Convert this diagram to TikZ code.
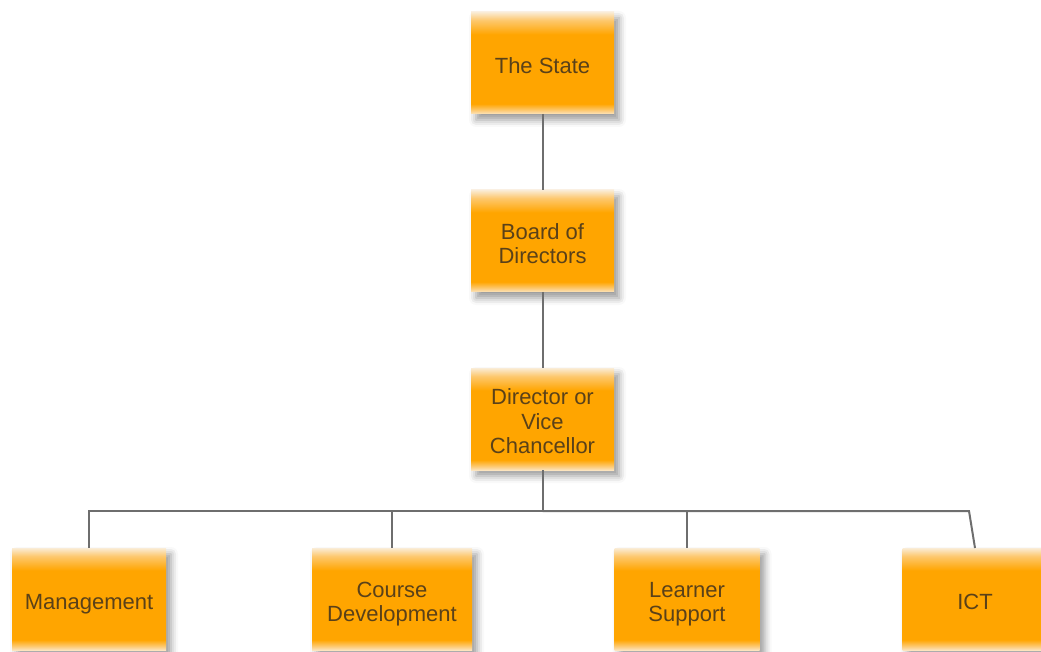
\documentclass[tikz,border=0pt]{standalone}
\usepackage{fontspec}
\setmainfont{Liberation Sans}
\usetikzlibrary{chains,positioning,shadows.blur}

\definecolor{boxorange}{RGB}{255,165,0}
\definecolor{boxmid}{RGB}{253,200,110}
\definecolor{boxtop}{RGB}{250,236,214}
\definecolor{boxlow}{RGB}{252,228,190}
\definecolor{boxtext}{RGB}{90,65,25}
\definecolor{linkgray}{RGB}{110,110,110}

\pgfdeclareverticalshading{orgshade}{100bp}{color(0bp)=(boxlow); color(25bp)=(boxlow);
  color(27bp)=(boxmid); color(30bp)=(boxorange); color(64bp)=(boxorange);
  color(71bp)=(boxmid); color(75bp)=(boxtop); color(100bp)=(boxtop)}

% lines of a box, set a little low
\newcommand\boxlines[1]{\raisebox{-5.5pt}[\height][\depth]{\begin{tabular}{@{}c@{}}#1\end{tabular}}}

\tikzset{
  orgbox/.style={rectangle,shading=orgshade,minimum width=143pt,minimum height=102pt,
    inner sep=0pt,outer sep=0pt,text=boxtext,
    font=\fontsize{22}{24.5}\selectfont,
    blur shadow={shadow xshift=5pt,shadow yshift=-6pt,shadow blur radius=7pt,shadow opacity=40}},
  link/.style={draw=linkgray,line width=2pt}
}

\begin{document}
\begin{tikzpicture}[x=1pt,y=-1pt]
\useasboundingbox (0,0) rectangle (1041,652);

\begin{scope}[shift={(542.5,63)},start chain=going below,node distance=76pt]
\def\uprow{1/{The State},2/{Board of\\Directors},3/{Director or\\Vice\\Chancellor}}
\foreach \i / \element in \uprow
  \node [orgbox,on chain] (u\i) {\boxlines{\element}};
\end{scope}

\def\lowrow{1/89/154/{Management},2/392/160/{Course\\Development},3/687/145/{Learner\\Support},4/975/145/{ICT}}
\foreach \i / \x / \bw / \element in \lowrow
  \node [orgbox,minimum width=\bw pt] (l\i) at (\x,599) {\boxlines{\element}};

\draw [link] (u1.south) -- (u2.north);
\draw [link] (u2.south) -- (u3.north);
\coordinate (bus) at ([yshift=-41pt]u3.south);
\draw [link] (u3.south) -- (bus);
\foreach \i in {1,2,3}
  \draw [link] (bus) -| (l\i.north);
\draw [link] (bus) -- ([xshift=-6pt]bus -| l4.north) -- (l4.north);

\end{tikzpicture}
\end{document}
